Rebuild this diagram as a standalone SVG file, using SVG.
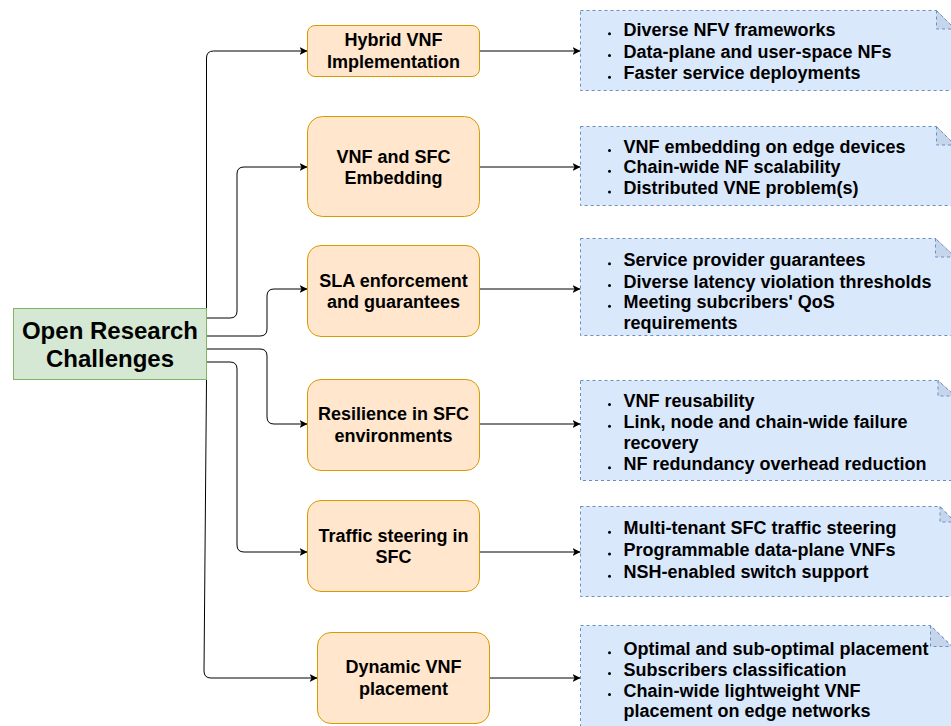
<svg xmlns="http://www.w3.org/2000/svg" width="951" height="726" viewBox="0 0 951 726">
  <style>
    .t { font-family: "Liberation Sans", Arial, sans-serif; font-weight: bold; fill: #000; }
    .root { fill: #d5e8d4; stroke: #82b366; stroke-width: 1; }
    .topic { fill: #ffe6cc; stroke: #d79b00; stroke-width: 1; }
    .note { fill: #dae8fc; stroke: #6c8ebf; stroke-width: 1; stroke-dasharray: 3 3; }
    .fold { fill: #c5d5ec; stroke: #6c8ebf; stroke-width: 1; stroke-dasharray: 3 3; }
    .edge { fill: none; stroke: #000; stroke-width: 1; marker-end: url(#arrow); }
    .bul { fill: #000; }
  </style>
  <defs>
    <marker id="arrow" markerUnits="userSpaceOnUse" markerWidth="9" markerHeight="9" refX="8" refY="4" orient="auto">
      <path d="M0,0 L8,4 L0,8 L2,4 Z" fill="#000"/>
    </marker>
  </defs>

  <!-- connectors -->
  <g id="connectors">
    <path class="edge" d="M206.5,309 L206.5,58 Q206.5,51 213.5,51 L307.5,51"/>
    <path class="edge" d="M206.5,318 L230,318 Q237,318 237,311 L237,174 Q237,167 244,167 L307.5,167"/>
    <path class="edge" d="M206.5,336 L260,336 Q267,336 267,329 L267,296 Q267,289 274,289 L307.5,289"/>
    <path class="edge" d="M206.5,349 L260,349 Q267,349 267,356 L267,417 Q267,424 274,424 L307.5,424"/>
    <path class="edge" d="M206.5,362 L230,362 Q237,362 237,369 L237,545 Q237,552 244,552 L307.5,552"/>
    <path class="edge" d="M206.5,379.5 L204,671 Q204,678 211,678 L317.5,678"/>
    <path class="edge" d="M479.5,51 L580.5,51"/>
    <path class="edge" d="M479.5,167 L580.5,167"/>
    <path class="edge" d="M479.5,289 L580.5,289"/>
    <path class="edge" d="M479.5,424 L580.5,424"/>
    <path class="edge" d="M479.5,552 L580.5,552"/>
    <path class="edge" d="M489.5,678 L580.5,678"/>
  </g>

  <!-- central node -->
  <g id="open-research-challenges">
    <rect class="root" x="13.5" y="308.5" width="193" height="71"/>
    <text class="t" x="110" y="338.5" font-size="24" text-anchor="middle">Open Research</text>
    <text class="t" x="110" y="367" font-size="24" text-anchor="middle">Challenges</text>
  </g>

  <!-- challenge topics -->
  <g id="hybrid-vnf">
    <rect class="topic" x="307.5" y="25.5" width="172" height="51" rx="7.5"/>
    <text class="t" x="393.5" y="46" font-size="18" text-anchor="middle">Hybrid VNF</text>
    <text class="t" x="393.5" y="67.7" font-size="18" text-anchor="middle">Implementation</text>
  </g>
  <g id="vnf-sfc-embedding">
    <rect class="topic" x="307.5" y="116.5" width="172" height="100" rx="15"/>
    <text class="t" x="393.5" y="162.7" font-size="18" text-anchor="middle">VNF and SFC</text>
    <text class="t" x="393.5" y="184.3" font-size="18" text-anchor="middle">Embedding</text>
  </g>
  <g id="sla-enforcement">
    <rect class="topic" x="307.5" y="245.5" width="172" height="91" rx="13.5"/>
    <text class="t" x="393.5" y="286.7" font-size="18" text-anchor="middle">SLA enforcement</text>
    <text class="t" x="393.5" y="308.3" font-size="18" text-anchor="middle">and guarantees</text>
  </g>
  <g id="resilience-sfc">
    <rect class="topic" x="307.5" y="379.5" width="172" height="91" rx="13.5"/>
    <text class="t" x="393.5" y="420" font-size="18" text-anchor="middle">Resilience in SFC</text>
    <text class="t" x="393.5" y="441.7" font-size="18" text-anchor="middle">environments</text>
  </g>
  <g id="traffic-steering">
    <rect class="topic" x="307.5" y="500.5" width="172" height="91" rx="13.5"/>
    <text class="t" x="393.5" y="541.7" font-size="18" text-anchor="middle">Traffic steering in</text>
    <text class="t" x="393.5" y="563.3" font-size="18" text-anchor="middle">SFC</text>
  </g>
  <g id="dynamic-vnf-placement">
    <rect class="topic" x="317.5" y="632.5" width="172" height="91" rx="13.5"/>
    <text class="t" x="403.5" y="673.3" font-size="18" text-anchor="middle">Dynamic VNF</text>
    <text class="t" x="403.5" y="695" font-size="18" text-anchor="middle">placement</text>
  </g>

  <!-- detail notes -->
  <g id="note-hybrid">
    <path class="note" d="M580.5,10.5 L936.5,10.5 L955,29 L955,90.5 L580.5,90.5 Z"/>
    <path class="fold" d="M936.5,10.5 L936.5,29 L955,29 Z"/>
    <circle class="bul" cx="609.5" cy="33.8" r="1.5"/>
    <circle class="bul" cx="609.5" cy="55.5" r="1.5"/>
    <circle class="bul" cx="609.5" cy="77.2" r="1.5"/>
    <text class="t" x="623.5" y="35.8" font-size="18">Diverse NFV frameworks</text>
    <text class="t" x="623.5" y="57.5" font-size="18">Data-plane and user-space NFs</text>
    <text class="t" x="623.5" y="79.2" font-size="18">Faster service deployments</text>
  </g>
  <g id="note-embedding">
    <path class="note" d="M580.5,126.5 L936.5,126.5 L955,145 L955,205.5 L580.5,205.5 Z"/>
    <path class="fold" d="M936.5,126.5 L936.5,145 L955,145 Z"/>
    <circle class="bul" cx="609.5" cy="150.5" r="1.5"/>
    <circle class="bul" cx="609.5" cy="171.3" r="1.5"/>
    <circle class="bul" cx="609.5" cy="192.1" r="1.5"/>
    <text class="t" x="623.5" y="152.5" font-size="18">VNF embedding on edge devices</text>
    <text class="t" x="623.5" y="173.3" font-size="18">Chain-wide NF scalability</text>
    <text class="t" x="623.5" y="194.1" font-size="18">Distributed VNE problem(s)</text>
  </g>
  <g id="note-sla">
    <path class="note" d="M580.5,238.5 L935.5,238.5 L955,257 L955,335.5 L580.5,335.5 Z"/>
    <path class="fold" d="M935.5,238.5 L935.5,257 L955,257 Z"/>
    <circle class="bul" cx="609.5" cy="263.8" r="1.5"/>
    <circle class="bul" cx="609.5" cy="285.5" r="1.5"/>
    <circle class="bul" cx="609.5" cy="306.2" r="1.5"/>
    <text class="t" x="623.5" y="265.8" font-size="18">Service provider guarantees</text>
    <text class="t" x="623.5" y="287.5" font-size="18">Diverse latency violation thresholds</text>
    <text class="t" x="623.5" y="308.2" font-size="18">Meeting subcribers' QoS</text>
    <text class="t" x="623.5" y="329.2" font-size="18">requirements</text>
  </g>
  <g id="note-resilience">
    <path class="note" d="M580.5,380.5 L938,380.5 L955,396 L955,480.5 L580.5,480.5 Z"/>
    <path class="fold" d="M938,380.5 L938,396 L955,396 Z"/>
    <circle class="bul" cx="609.5" cy="404.5" r="1.5"/>
    <circle class="bul" cx="609.5" cy="426.2" r="1.5"/>
    <circle class="bul" cx="609.5" cy="467.8" r="1.5"/>
    <text class="t" x="623.5" y="406.5" font-size="18">VNF reusability</text>
    <text class="t" x="623.5" y="428.2" font-size="18">Link, node and chain-wide failure</text>
    <text class="t" x="623.5" y="448.8" font-size="18">recovery</text>
    <text class="t" x="623.5" y="469.8" font-size="18">NF redundancy overhead reduction</text>
  </g>
  <g id="note-traffic">
    <path class="note" d="M580.5,506.5 L940,506.5 L955,522 L955,596.5 L580.5,596.5 Z"/>
    <path class="fold" d="M940,506.5 L940,522 L955,522 Z"/>
    <circle class="bul" cx="609.5" cy="532.2" r="1.5"/>
    <circle class="bul" cx="609.5" cy="554" r="1.5"/>
    <circle class="bul" cx="609.5" cy="576.2" r="1.5"/>
    <text class="t" x="623.5" y="534.2" font-size="18">Multi-tenant SFC traffic steering</text>
    <text class="t" x="623.5" y="556" font-size="18">Programmable data-plane VNFs</text>
    <text class="t" x="623.5" y="578.2" font-size="18">NSH-enabled switch support</text>
  </g>
  <g id="note-placement">
    <path class="note" d="M580.5,625.5 L930.5,625.5 L952,646.5 L952,740 L580.5,740 Z"/>
    <path class="fold" d="M930.5,625.5 L930.5,646.5 L952,646.5 Z"/>
    <circle class="bul" cx="609.5" cy="652.8" r="1.5"/>
    <circle class="bul" cx="609.5" cy="673.5" r="1.5"/>
    <circle class="bul" cx="609.5" cy="694.5" r="1.5"/>
    <text class="t" x="623.5" y="654.8" font-size="18">Optimal and sub-optimal placement</text>
    <text class="t" x="623.5" y="675.5" font-size="18">Subscribers classification</text>
    <text class="t" x="623.5" y="696.5" font-size="18">Chain-wide lightweight VNF</text>
    <text class="t" x="623.5" y="717" font-size="18">placement on edge networks</text>
  </g>
</svg>
